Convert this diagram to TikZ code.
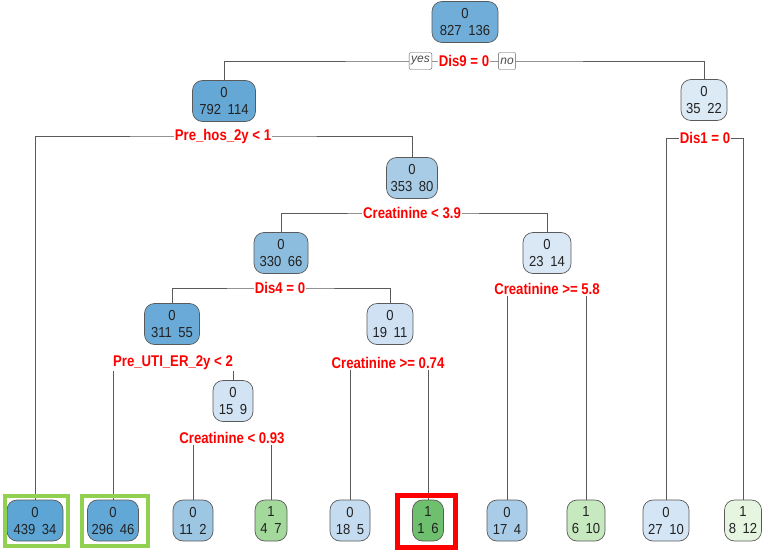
\documentclass[tikz,border=0pt]{standalone}
\usepackage{fontspec}
\setmainfont{Liberation Sans}
\newfontfamily\lblfont{Liberation Sans}[FakeStretch=0.85]
\newfontfamily\nodefont{Liberation Sans}[FakeStretch=0.9]
\usetikzlibrary{backgrounds}
\definecolor{edgecol}{HTML}{5A5A5A}
\definecolor{txtcol}{HTML}{222222}
\definecolor{hlgreen}{HTML}{92D050}
\definecolor{hlred}{HTML}{FF0000}
\definecolor{cA}{HTML}{70AED9}
\definecolor{cB}{HTML}{65A8D6}
\definecolor{cC}{HTML}{DCEAF6}
\definecolor{cD}{HTML}{A8CCE6}
\definecolor{cE}{HTML}{8CBDDF}
\definecolor{cF}{HTML}{DAE8F5}
\definecolor{cG}{HTML}{6AAAD8}
\definecolor{cH}{HTML}{CFE1F2}
\definecolor{cI}{HTML}{D2E3F3}
\definecolor{cL1}{HTML}{5DA5D5}
\definecolor{cL2}{HTML}{62A8D7}
\definecolor{cL3}{HTML}{9DC6E3}
\definecolor{cL4}{HTML}{A3D99B}
\definecolor{cL5}{HTML}{C5DCF0}
\definecolor{cL6}{HTML}{6EBF6E}
\definecolor{cL7}{HTML}{A9CDE8}
\definecolor{cL8}{HTML}{C7E9C0}
\definecolor{cL9}{HTML}{D4E5F5}
\definecolor{cL10}{HTML}{E5F5E0}
\newcommand{\gp}{\hspace{0.45em}}
\tikzset{
  tnode/.style={draw=edgecol, line width=0.7pt, rounded corners=10pt, minimum height=41pt,
    inner sep=0pt, align=center, text=txtcol, font=\nodefont\fontsize{14.5}{17}\selectfont},
  splitlbl/.style={fill=white, inner sep=1pt, text=hlred,
    font=\lblfont\bfseries\fontsize{15.5}{16}\selectfont},
  edge/.style={draw=edgecol, line width=0.9pt},
  yesno/.style={draw=edgecol, fill=white, rounded corners=2pt, inner xsep=2pt, inner ysep=1pt,
    minimum height=17pt, text=black!70, font=\itshape\fontsize{12}{13}\selectfont},
  hlbox/.style={draw, fill=none, inner sep=0pt}
}
\begin{document}
\begin{tikzpicture}[x=1pt,y=-1pt]
\useasboundingbox (0,0) rectangle (767,551);
% inner nodes
\node[tnode, fill=cA, minimum width=66pt] (n1) at (465,22) {0\\827\gp136};
\node[tnode, fill=cB, minimum width=63pt] (n2) at (224,101) {0\\792\gp114};
\node[tnode, fill=cC, minimum width=46pt] (n3) at (704,100) {0\\35\gp22};
\node[tnode, fill=cD, minimum width=51pt] (n4) at (412,178) {0\\353\gp80};
\node[tnode, fill=cE, minimum width=54pt] (n5) at (281,253) {0\\330\gp66};
\node[tnode, fill=cF, minimum width=48pt] (n6) at (547,253) {0\\23\gp14};
\node[tnode, fill=cG, minimum width=55pt] (n7) at (172,324) {0\\311\gp55};
\node[tnode, fill=cH, minimum width=46pt] (n8) at (390,324) {0\\19\gp11};
\node[tnode, fill=cI, minimum width=40pt] (n9) at (233,401) {0\\15\gp9};
% leaves
\node[tnode, fill=cL1, minimum width=56pt] (L1) at (35,520.5) {0\\439\gp34};
\node[tnode, fill=cL2, minimum width=51pt] (L2) at (113,520.5) {0\\296\gp46};
\node[tnode, fill=cL3, minimum width=40pt] (L3) at (193,520.5) {0\\11\gp2};
\node[tnode, fill=cL4, minimum width=32pt] (L4) at (271,520.5) {1\\4\gp7};
\node[tnode, fill=cL5, minimum width=40pt] (L5) at (350,520.5) {0\\18\gp5};
\node[tnode, fill=cL6, minimum width=31pt] (L6) at (428,520.5) {1\\1\gp6};
\node[tnode, fill=cL7, minimum width=40pt] (L7) at (507,520.5) {0\\17\gp4};
\node[tnode, fill=cL8, minimum width=38pt] (L8) at (586,520.5) {1\\6\gp10};
\node[tnode, fill=cL9, minimum width=46pt] (L9) at (666,520.5) {0\\27\gp10};
\node[tnode, fill=cL10, minimum width=37pt] (L10) at (743,520.5) {1\\8\gp12};
% split labels
\node[splitlbl] (s1) at (464,61) {Dis9 = 0};
\node[yesno] (yes) at (420.5,61) {yes};
\node[yesno] (no) at (507,61) {no};
\node[splitlbl] (s2) at (223,136) {Pre\_hos\_2y < 1};
\node[splitlbl] (s3) at (705,138) {Dis1 = 0};
\node[splitlbl] (s4) at (412,213) {Creatinine < 3.9};
\node[splitlbl] (s5) at (280,288) {Dis4 = 0};
\node[splitlbl] (s6) at (547,289) {Creatinine >= 5.8};
\node[splitlbl] (s7) at (173,363) {Pre\_UTI\_ER\_2y < 2};
\node[splitlbl] (s8) at (388,363) {Creatinine >= 0.74};
\node[splitlbl] (s9) at (232,438) {Creatinine < 0.93};
% connectors
\begin{scope}[on background layer]
\fill[white] (0,0) rectangle (767,551);
\draw[edge] (n2.north) |- (s1.center) -| (n3.north);
\draw[edge] (L1.north) |- (s2.center) -| (n4.north);
\draw[edge] (L9.north) |- (s3.center) -| (L10.north);
\draw[edge] (n5.north) |- (s4.center) -| (n6.north);
\draw[edge] (n7.north) |- (s5.center) -| (n8.north);
\draw[edge] (L7.north) |- (s6.center) -| (L8.north);
\draw[edge] (L2.north) |- (s7.center) -| (n9.north);
\draw[edge] (L5.north) |- (s8.center) -| (L6.north);
\draw[edge] (L3.north) |- (s9.center) -| (L4.north);
\end{scope}
% highlight frames
\node[hlbox, draw=hlgreen, line width=4pt, minimum width=63pt, minimum height=50pt] (h1) at (36.5,520.5) {};
\node[hlbox, draw=hlgreen, line width=4pt, minimum width=66pt, minimum height=50pt] (h2) at (115,520.5) {};
\node[hlbox, draw=hlred, line width=5pt, minimum width=58pt, minimum height=52pt] (h3) at (426.5,521.5) {};
\end{tikzpicture}
\end{document}
